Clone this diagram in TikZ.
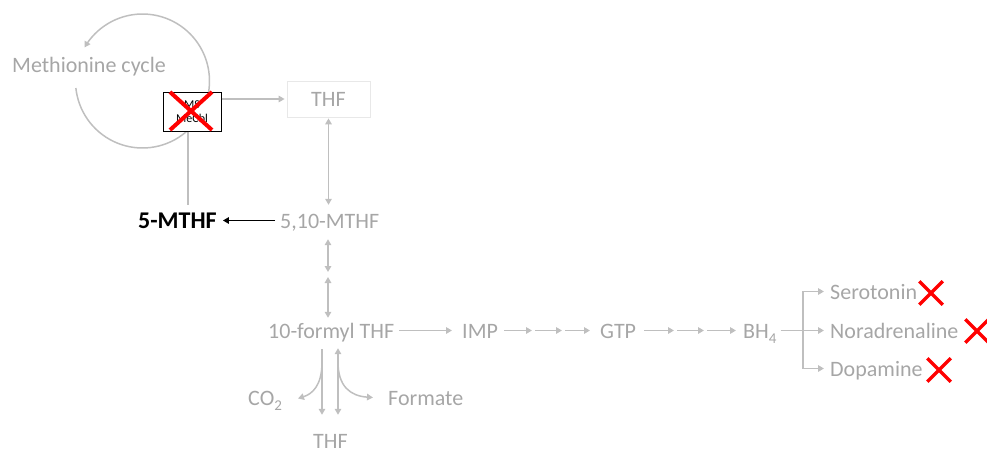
\documentclass[tikz,border=0pt]{standalone}
\usepackage{fontspec}
\setmainfont{Carlito}
\usetikzlibrary{arrows.meta,shapes.misc}
\definecolor{txtgray}{RGB}{166,166,166}
\definecolor{arrgray}{RGB}{191,191,191}
\definecolor{boxgray}{RGB}{232,232,232}
\newcommand{\mysub}[1]{\raisebox{-0.25em}{\fontsize{15}{16}\selectfont #1}}
\begin{document}
\begin{tikzpicture}[x=1pt,y=-1pt,
  lbl/.style={text=txtgray, font=\fontsize{22}{24}\selectfont, inner sep=0pt,
    text height=15pt, text depth=0pt, anchor=west},
  arr/.style={draw=arrgray, line width=1.5pt, -{Triangle[length=6pt,width=6.5pt]}},
  darr/.style={draw=arrgray, line width=1.5pt, {Triangle[length=6pt,width=6.5pt]}-{Triangle[length=6pt,width=6.5pt]}},
  ln/.style={draw=arrgray, line width=1.5pt},
  redx/.style={cross out, draw=red, line width=3.5pt, inner sep=0pt, minimum width=20pt, minimum height=20pt}]
\useasboundingbox (0,0) rectangle (987,452);

% methionine cycle
\draw[arr] plot[domain=174:-150, samples=90, smooth] ({142.5+67*cos(\x)},{81+67*sin(\x)});
\node[lbl] (met) at (12,64.5) {Methionine cycle};

% MS box
\node[draw=black, line width=1pt, fill=white, minimum width=58pt, minimum height=39pt,
  inner sep=0pt, align=center, font=\fontsize{12}{14}\selectfont] (ms) at (192,111.5) {MS\\MeCbl};
\node[cross out, draw=red, line width=4pt, inner sep=0pt, minimum width=38pt, minimum height=34pt] (msx) at (191,111) {};

% top THF
\node[draw=boxgray, line width=0.8pt, minimum width=83pt, minimum height=36pt, inner sep=0pt,
  text=txtgray, font=\fontsize{22}{24}\selectfont] (thf) at (328.5,99) {THF};
\draw[arr, shorten >=2pt] (ms.east |- thf.west) -- (thf.west);

% 5-MTHF and 5,10-MTHF
\node[lbl, text=black, font=\bfseries\fontsize{24}{26}\selectfont] (m5) at (138,220.5) {5-MTHF};
\node[lbl] (m510) at (280,220.5) {5,10-MTHF};
\coordinate (msl) at (188,205);
\draw[ln] (ms.south -| msl) -- (msl);
\draw[draw=black, line width=1.5pt, -{Triangle[length=6pt,width=6.5pt]}, shorten <=5pt, shorten >=6pt] (m510.west) -- (m5.east);
\draw[darr, shorten <=1pt, shorten >=8pt] (thf.south) -- (thf.south |- m510.north);

% 10-formyl THF
\node[lbl] (fth) at (268,330.5) {10-formyl THF};
\coordinate (mid) at (328,274.5);
\draw[darr, shorten <=11pt, shorten >=2.5pt] (mid |- m510.south) -- (mid);
\draw[darr, shorten <=2.5pt, shorten >=5pt] (mid) -- (mid |- fth.north);

% pathway
\node[lbl] (imp) at (462,330.5) {IMP};
\node[lbl] (gtp) at (600,330.5) {GTP};
\node[lbl] (bh4) at (743,330.5) {BH\mysub{4}};
\draw[arr, shorten <=5pt, shorten >=10pt] (fth.east) -- (imp.west);
\coordinate (g1) at (532,330.5);
\coordinate (g2) at (562,330.5);
\draw[arr, shorten <=6pt] (imp.east) -- (g1);
\draw[arr, shorten <=3pt] (g1) -- (g2);
\draw[arr, shorten <=3pt, shorten >=10pt] (g2) -- (gtp.west);
\coordinate (b1) at (674,330.5);
\coordinate (b2) at (704,330.5);
\draw[arr, shorten <=8pt] (gtp.east) -- (b1);
\draw[arr, shorten <=3pt] (b1) -- (b2);
\draw[arr, shorten <=3pt, shorten >=7pt] (b2) -- (bh4.west);

% products
\node[lbl] (ser) at (830,291.5) {Serotonin};
\node[lbl] (nor) at (830,330.5) {Noradrenaline};
\node[lbl] (dop) at (830,368.5) {Dopamine};
\coordinate (br) at (803,330.5);
\draw[arr, shorten <=4pt, shorten >=6pt] (bh4.east) -- (nor.west);
\draw[arr, shorten >=6pt] (br) |- (ser.west);
\draw[arr, shorten >=6pt] (br) |- (dop.west);
\node[redx] (serx) at (931,293) {};
\node[redx] (norx) at (977,331) {};
\node[redx] (dopx) at (939,370) {};

% bottom
\node[lbl] (co2) at (248,397.5) {CO\mysub{2}};
\node[lbl] (fmt) at (388,397.5) {Formate};
\node[lbl] (thfb) at (313,440.5) {THF};
\coordinate (bl) at (322,0);
\coordinate (brr) at (338,0);
\draw[arr, shorten <=11pt, shorten >=18pt] (fth.south -| bl) -- (thfb.north -| bl);
\draw[darr, shorten <=10pt, shorten >=18pt] (fth.south -| brr) -- (thfb.north -| brr);
\coordinate (blc) at (322,362);
\coordinate (brc) at (338,362);
\draw[arr] (blc) .. controls (322,386) and (312,394) .. (298,398.5);
\draw[arr] (brc) .. controls (338,386) and (350,396) .. (373,397.5);
\end{tikzpicture}
\end{document}
